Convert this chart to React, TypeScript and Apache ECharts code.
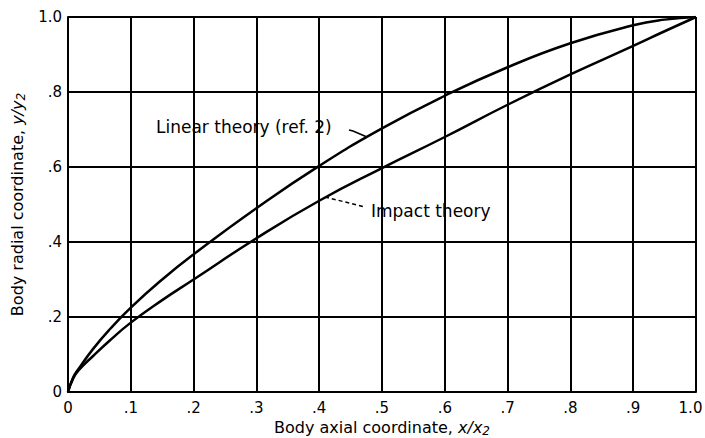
import React, { useEffect, useRef } from "react";
import * as echarts from "echarts";

const xValues = [0, 0.008, 0.017, 0.04, 0.067, 0.1, 0.15, 0.2, 0.3, 0.4, 0.5, 0.6, 0.7, 0.8, 0.9, 0.95, 1.0];
const linearTheory = [0, 0.038, 0.062, 0.115, 0.168, 0.225, 0.3, 0.367, 0.49, 0.603, 0.703, 0.79, 0.866, 0.93, 0.978, 0.993, 1.0];
const impactTheory = [0, 0.035, 0.058, 0.096, 0.138, 0.185, 0.245, 0.3, 0.41, 0.51, 0.597, 0.68, 0.766, 0.847, 0.923, 0.962, 1.0];
const xTickLabels = ["0", ".1", ".2", ".3", ".4", ".5", ".6", ".7", ".8", ".9", "1.0"];
const yTickLabels = ["0", ".2", ".4", ".6", ".8", "1.0"];

const FONT = "DejaVu Sans";

export default function App() {
  const ref = useRef<HTMLDivElement>(null);
  useEffect(() => {
    if (!ref.current) return;
    const chart = echarts.init(ref.current, null, { renderer: "svg" });
    const pair = (ys: number[]) => xValues.map((x, i) => [x, ys[i]]);
    const nameRich = {
      i: { fontStyle: "italic", fontFamily: FONT, fontSize: 16, color: "#000" },
      s: { fontStyle: "italic", fontFamily: FONT, fontSize: 12, color: "#000", padding: [7, 0, 0, 0] },
    };
    chart.setOption({
      animation: false,
      backgroundColor: "#ffffff",
      grid: { left: 68, right: 9, top: 17, bottom: 46, outerBoundsMode: "none", containLabel: false },
      xAxis: {
        type: "value",
        min: 0,
        max: 1,
        interval: 0.1,
        name: "Body axial coordinate, {i|x/x}{s|2}",
        nameLocation: "middle",
        nameGap: 20,
        nameTextStyle: { color: "#000", fontFamily: FONT, fontSize: 16, rich: nameRich },
        axisLine: { show: true, lineStyle: { color: "#000", width: 2 } },
        axisTick: { show: false },
        splitLine: { show: true, lineStyle: { color: "#000", width: 2 } },
        axisLabel: {
          color: "#000",
          fontFamily: FONT,
          fontSize: 15,
          margin: 8,
          formatter: (v: number) => {
            const i = Math.round(v * 10);
            return i === 10 ? `{r|${xTickLabels[i]}}` : xTickLabels[i];
          },
          rich: { r: { fontFamily: FONT, fontSize: 15, color: "#000", padding: [0, 11, 0, 0] } },
        },
      },
      yAxis: {
        type: "value",
        min: 0,
        max: 1,
        interval: 0.2,
        name: "Body radial coordinate, {i|y/y}{s|2}",
        nameLocation: "middle",
        nameRotate: 90,
        nameGap: 40,
        nameTextStyle: { color: "#000", fontFamily: FONT, fontSize: 16, rich: nameRich },
        axisLine: { show: true, lineStyle: { color: "#000", width: 2 } },
        axisTick: { show: false },
        splitLine: { show: true, lineStyle: { color: "#000", width: 2 } },
        axisLabel: {
          color: "#000",
          fontFamily: FONT,
          fontSize: 15,
          margin: 6,
          formatter: (v: number) => yTickLabels[Math.round(v * 5)],
        },
      },
      series: [
        {
          name: "Linear theory (ref. 2)",
          type: "line",
          data: pair(linearTheory),
          smooth: 0.5,
          showSymbol: false,
          lineStyle: { color: "#000", width: 2.5 },
        },
        {
          name: "Impact theory",
          type: "line",
          data: pair(impactTheory),
          smooth: 0.5,
          showSymbol: false,
          lineStyle: { color: "#000", width: 2.5 },
        },
      ],
      graphic: [
        {
          type: "rect",
          shape: { x: 152, y: 115, width: 186, height: 24 },
          style: { fill: "#fff" },
          silent: true,
        },
        {
          type: "text",
          x: 156,
          y: 127,
          style: {
            text: "Linear theory (ref. 2)",
            fill: "#000",
            font: `17px "${FONT}"`,
            textVerticalAlign: "middle",
          },
        },
        {
          type: "polyline",
          shape: { points: [[349, 130], [353, 131], [367, 137]] },
          style: { stroke: "#000", lineWidth: 1.5, fill: null },
        },
        {
          type: "rect",
          shape: { x: 368, y: 200, width: 130, height: 22 },
          style: { fill: "#fff" },
          silent: true,
        },
        {
          type: "text",
          x: 371,
          y: 211,
          style: {
            text: "Impact theory",
            fill: "#000",
            font: `17px "${FONT}"`,
            textVerticalAlign: "middle",
          },
        },
        {
          type: "line",
          shape: { x1: 325, y1: 197, x2: 365, y2: 207 },
          style: { stroke: "#000", lineWidth: 1.5, lineDash: [4, 3] },
        },
      ],
    });
    return () => chart.dispose();
  }, []);
  return <div ref={ref} style={{ width: 705, height: 438, position: "absolute", left: 0, top: 0 }} />;
}
